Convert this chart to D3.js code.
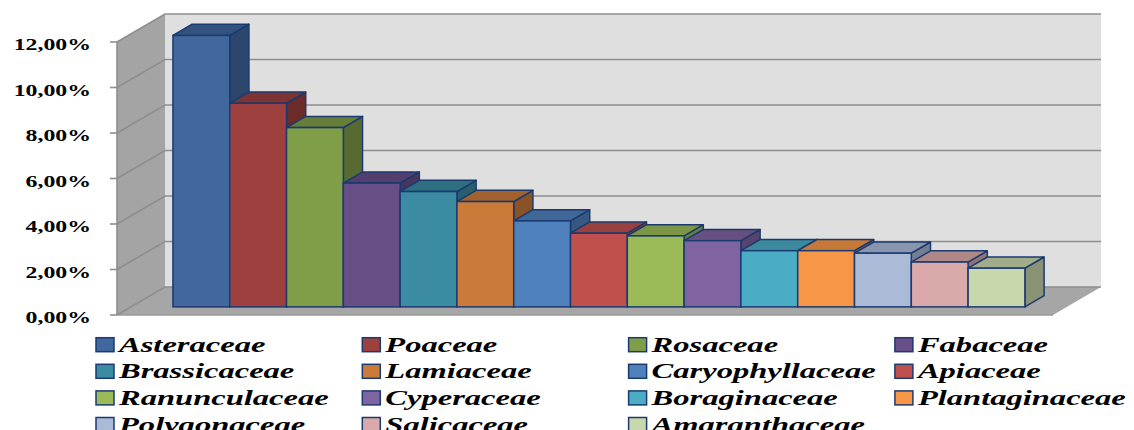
<!DOCTYPE html>
<html>
<head>
<meta charset="utf-8">
<script src="https://cdn.jsdelivr.net/npm/d3@7"></script>
<style>
  html, body { margin: 0; padding: 0; background: #ffffff; }
  svg { display: block; }
</style>
</head>
<body>
<script>
// Plant families and their share of the flora
const families = [
  "Asteraceae", "Poaceae", "Rosaceae", "Fabaceae", "Brassicaceae",
  "Lamiaceae", "Caryophyllaceae", "Apiaceae", "Ranunculaceae", "Cyperaceae",
  "Boraginaceae", "Plantaginaceae", "Polygonaceae", "Salicaceae", "Amaranthaceae"
];
const shares = [
  0.1193, 0.0895, 0.0788, 0.0544, 0.0507,
  0.0463, 0.0378, 0.0324, 0.0312, 0.0291,
  0.0247, 0.0247, 0.0236, 0.0197, 0.0170
];
const colors = [
  "#40689e", "#9e413e", "#809e47", "#684f88", "#3b8ba3",
  "#ca7a39", "#4f81bd", "#c0504d", "#9bbb59", "#8064a2",
  "#4bacc6", "#f79646", "#aabad7", "#d9aaa9", "#c9d7ac"
];
const tickValues = [0, 0.02, 0.04, 0.06, 0.08, 0.10, 0.12];

const W = 1134, H = 430;
const svg = d3.select("body").append("svg")
  .attr("width", W).attr("height", H);

// Front plane of the 3D box
const x0 = 117, x1 = 1053;
const y = d3.scaleLinear().domain([0, 0.12]).range([315, 42]);
const x = d3.scaleBand().domain(families).range([x0, x1])
  .paddingInner(0).paddingOuter(0.74);

// Full depth of the box and where the columns sit within it
const depth = [48, -28];
const barStart = 0.29, barDepth = 0.40;
const at = (px, py, f) => [px + depth[0] * f, py + depth[1] * f];

const pct = d3.formatLocale({ decimal: ",", thousands: ".", grouping: [3], currency: ["", "%"] })
  .format(".2%");

const line = d3.line();
const poly = pts => line(pts) + "Z";

const box = svg.append("g");
const yMax = d3.max(y.domain());

// Side wall
box.append("path")
  .attr("d", poly([[x0, y(yMax)], at(x0, y(yMax), 1), at(x0, y(0), 1), [x0, y(0)]]))
  .attr("fill", "#a4a4a4");

// Back wall
const [bx0, by0] = at(x0, y(yMax), 1);
const [bx1, by1] = at(x1, y(0), 1);
box.append("rect")
  .attr("x", bx0).attr("y", by0)
  .attr("width", bx1 - bx0).attr("height", by1 - by0)
  .attr("fill", "#dfdfdf");

// Floor
box.append("path")
  .attr("d", poly([[x0, y(0)], at(x0, y(0), 1), at(x1, y(0), 1), [x1, y(0)]]))
  .attr("fill", "#a6a6a6");
box.append("line")
  .attr("x1", x0).attr("x2", x1).attr("y1", y(0)).attr("y2", y(0))
  .attr("stroke", "#9a9a9a").attr("stroke-width", 1.5);

// Gridlines running along the side and back walls
box.selectAll("path.grid").data(tickValues).join("path")
  .attr("class", "grid")
  .attr("d", t => line([[x0, y(t)], at(x0, y(t), 1), at(x1, y(t), 1)]))
  .attr("fill", "none")
  .attr("stroke", "#8e8e8e")
  .attr("stroke-width", 1.6);

// Value axis on the front edge
const axis = svg.append("g");
axis.append("line")
  .attr("x1", x0).attr("x2", x0).attr("y1", y(0)).attr("y2", y(yMax))
  .attr("stroke", "#8e8e8e").attr("stroke-width", 1.6);
axis.selectAll("line.tick").data(tickValues).join("line")
  .attr("class", "tick")
  .attr("x1", x0 - 7).attr("x2", x0)
  .attr("y1", d => y(d)).attr("y2", d => y(d))
  .attr("stroke", "#8e8e8e").attr("stroke-width", 1.6);
axis.selectAll("text").data(tickValues).join("text")
  .attr("transform", d => `translate(91,${y(d) + 8}) scale(1.4,1)`)
  .attr("text-anchor", "end")
  .attr("font-family", "'Liberation Serif', 'Times New Roman', serif")
  .attr("font-weight", "bold")
  .attr("font-size", 17)
  .attr("fill", "#000")
  .text(d => pct(d));

// Columns, painted left to right so each one covers its neighbour's side
const outline = "#1b3a70";
const bars = svg.append("g").selectAll("g").data(families).join("g");
bars.each(function (f, i) {
  const g = d3.select(this);
  const c = d3.color(colors[i]);
  const w = x.bandwidth();
  const [xl, yt] = at(x(f), y(shares[i]), barStart);
  const yb = at(x(f), y(0), barStart)[1];
  const dx = depth[0] * barDepth, dy = depth[1] * barDepth;
  const xr = xl + w;

  g.append("path")
    .attr("d", poly([[xr, yt], [xr + dx, yt + dy], [xr + dx, yb + dy], [xr, yb]]))
    .attr("fill", d3.rgb(c.r * 0.68, c.g * 0.68, c.b * 0.68))
    .attr("stroke", outline).attr("stroke-width", 1.5).attr("stroke-linejoin", "round");
  g.append("path")
    .attr("d", poly([[xl, yt], [xr, yt], [xr + dx, yt + dy], [xl + dx, yt + dy]]))
    .attr("fill", d3.rgb(c.r * 0.8, c.g * 0.8, c.b * 0.8))
    .attr("stroke", outline).attr("stroke-width", 1.5).attr("stroke-linejoin", "round");
  g.append("rect")
    .attr("x", xl).attr("y", yt)
    .attr("width", w).attr("height", yb - yt)
    .attr("fill", colors[i])
    .attr("stroke", outline).attr("stroke-width", 1.5);
});

// Legend: four columns, filled row by row
const legendCols = 4;
const colX = d3.scaleLinear().domain([0, 1]).range([96, 362.3]);
const rowY = d3.scaleLinear().domain([0, 1]).range([351.7, 378.3]);
const legend = svg.append("g").selectAll("g").data(families).join("g")
  .attr("transform", (d, i) => `translate(${colX(i % legendCols)},${rowY(Math.floor(i / legendCols))})`);
legend.append("rect")
  .attr("x", 0).attr("y", -14)
  .attr("width", 18).attr("height", 14)
  .attr("fill", (d, i) => colors[i])
  .attr("stroke", outline).attr("stroke-width", 1.5);
legend.append("text")
  .attr("transform", "translate(23,0) scale(1.55,1)")
  .attr("font-family", "'Liberation Serif', 'Times New Roman', serif")
  .attr("font-weight", "bold")
  .attr("font-style", "italic")
  .attr("font-size", 21)
  .attr("fill", "#000")
  .text(d => d);
</script>
</body>
</html>
